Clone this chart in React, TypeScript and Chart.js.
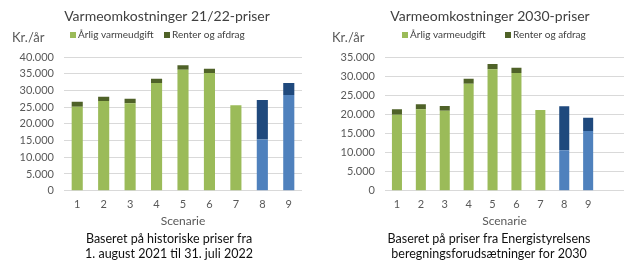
import React, { useEffect, useRef } from 'react';
import { Chart, registerables } from 'chart.js';
Chart.register(...registerables);

// ---- data ----
const scenarios2122 = ['1', '2', '3', '4', '5', '6', '7', '8', '9'];
const heat2122 = [25100, 26800, 26200, 32200, 36200, 35200, 25600, 15300, 28600];
const loan2122 = [1500, 1300, 1300, 1300, 1300, 1300, 0, 11800, 3600];

const scenarios2030 = ['1', '2', '3', '4', '5', '6', '7', '8', '9', ''];
const heat2030 = [19900, 21300, 20900, 28000, 31800, 30800, 21100, 10600, 15600, null];
const loan2030 = [1400, 1300, 1300, 1300, 1400, 1400, 0, 11500, 3500, null];

const seriesNames = ['Årlig varmeudgift', 'Renter og afdrag'];
const title2122 = 'Varmeomkostninger 21/22-priser';
const title2030 = 'Varmeomkostninger 2030-priser';
const caption2122 = ['Baseret på historiske priser fra', '1. august 2021 til 31. juli 2022'];
const caption2030 = ['Baseret på priser fra Energistyrelsens', 'beregningsforudsætninger for 2030'];
const yUnit = 'Kr./år';
const xTitle = 'Scenarie';
const yTicks2122 = [0, 5000, 10000, 15000, 20000, 25000, 30000, 35000, 40000];
const yTicks2030 = [0, 5000, 10000, 15000, 20000, 25000, 30000, 35000];
const blueFromIndex = 7;

// ---- style ----
const FONT = 'Lato, "Open Sans", sans-serif';
const GREEN = '#9BBB59';
const DARK_GREEN = '#4F6228';
const BLUE = '#4F81BD';
const DARK_BLUE = '#1F497D';

function fmt(v: number) {
  return String(v).replace(/\B(?=(\d{3})+(?!\d))/g, '.');
}

interface PanelProps {
  width: number;
  title: string;
  titleX: number;
  caption: string[];
  captionX: number;
  legendX: number[];
  labels: string[];
  heat: (number | null)[];
  loan: (number | null)[];
  yTicks: number[];
  padRight: number;
  yWidth: number;
}

function Panel(p: PanelProps) {
  const ref = useRef<HTMLCanvasElement>(null);
  useEffect(() => {
    if (!ref.current) return;
    const textPlugin = {
      id: 'texts',
      afterDraw(chart: any) {
        const ctx = chart.ctx;
        ctx.save();
        ctx.textBaseline = 'middle';
        // title
        ctx.fillStyle = '#404040';
        ctx.font = `14px ${FONT}`;
        ctx.textAlign = 'center';
        ctx.fillText(p.title, p.titleX, 16);
        // unit
        ctx.font = `13px ${FONT}`;
        ctx.textAlign = 'left';
        ctx.fillStyle = '#595959';
        ctx.fillText(yUnit, 12, 38);
        // legend (from datasets)
        ctx.font = `10px ${FONT}`;
        chart.data.datasets.forEach((ds: any, i: number) => {
          const meta = chart.getDatasetMeta(i);
          const el = meta.data[0];
          const color = el ? el.options.backgroundColor : '#000';
          const x = p.legendX[i];
          ctx.fillStyle = color;
          ctx.fillRect(x, 32, 6, 6);
          ctx.fillStyle = '#404040';
          ctx.fillText(ds.label, x + 8, 35);
        });
        // caption
        ctx.font = `12.5px ${FONT}`;
        ctx.fillStyle = '#111';
        ctx.textAlign = 'center';
        p.caption.forEach((line, i) => ctx.fillText(line, p.captionX, 239 + i * 15));
        ctx.restore();
      },
    };
    const yMin = p.yTicks[0];
    const yMax = p.yTicks[p.yTicks.length - 1];
    const chart = new Chart(ref.current, {
      type: 'bar',
      data: {
        labels: p.labels,
        datasets: [
          {
            label: seriesNames[0],
            data: p.heat as any,
            backgroundColor: (c: any) => (c.dataIndex >= blueFromIndex ? BLUE : GREEN),
            barPercentage: 0.42,
            categoryPercentage: 1,
          },
          {
            label: seriesNames[1],
            data: p.loan as any,
            backgroundColor: (c: any) => (c.dataIndex >= blueFromIndex ? DARK_BLUE : DARK_GREEN),
            barPercentage: 0.42,
            categoryPercentage: 1,
          },
        ],
      },
      options: {
        responsive: false,
        animation: false,
        layout: { padding: { left: 0, right: p.padRight, top: 57, bottom: 37 } },
        plugins: {
          title: { display: false },
          tooltip: { enabled: false },
          legend: { display: false },
        },
        scales: {
          x: {
            stacked: true,
            grid: { display: false, drawTicks: false },
            border: { display: false },
            ticks: { color: '#595959', font: { family: FONT, size: 11 }, padding: 6.7 },
            title: {
              display: true,
              text: xTitle,
              color: '#595959',
              font: { family: FONT, size: 12 },
              padding: { top: 1, bottom: 0 },
            },
            afterFit: (s: any) => {
              s.height = 37.3;
            },
          },
          y: {
            stacked: true,
            min: yMin,
            max: yMax,
            ticks: {
              autoSkip: false,
              color: '#595959',
              font: { family: FONT, size: 11 },
              padding: 10,
              callback: (v: any) => fmt(Number(v)),
            },
            afterBuildTicks: (s: any) => {
              s.ticks = p.yTicks.map((v) => ({ value: v }));
            },
            grid: { color: '#D9D9D9', drawTicks: false },
            border: { display: false },
            afterFit: (s: any) => {
              s.width = p.yWidth;
            },
          },
        },
      },
      plugins: [textPlugin],
    });
    return () => chart.destroy();
  }, []);
  return <canvas ref={ref} width={p.width} height={265} style={{ display: 'block' }} />;
}

export default function App() {
  return (
    <div style={{ position: 'fixed', left: 0, top: 0, width: 643, height: 265, background: '#fff', display: 'flex' }}>
      <Panel
        width={320}
        title={title2122}
        titleX={167}
        caption={caption2122}
        captionX={169}
        legendX={[70, 164]}
        labels={scenarios2122}
        heat={heat2122}
        loan={loan2122}
        yTicks={yTicks2122}
        padRight={18}
        yWidth={64}
      />
      <Panel
        width={323}
        title={title2030}
        titleX={170}
        caption={caption2030}
        captionX={169}
        legendX={[82, 185]}
        labels={scenarios2030}
        heat={heat2030}
        loan={loan2030}
        yTicks={yTicks2030}
        padRight={19}
        yWidth={65}
      />
    </div>
  );
}
